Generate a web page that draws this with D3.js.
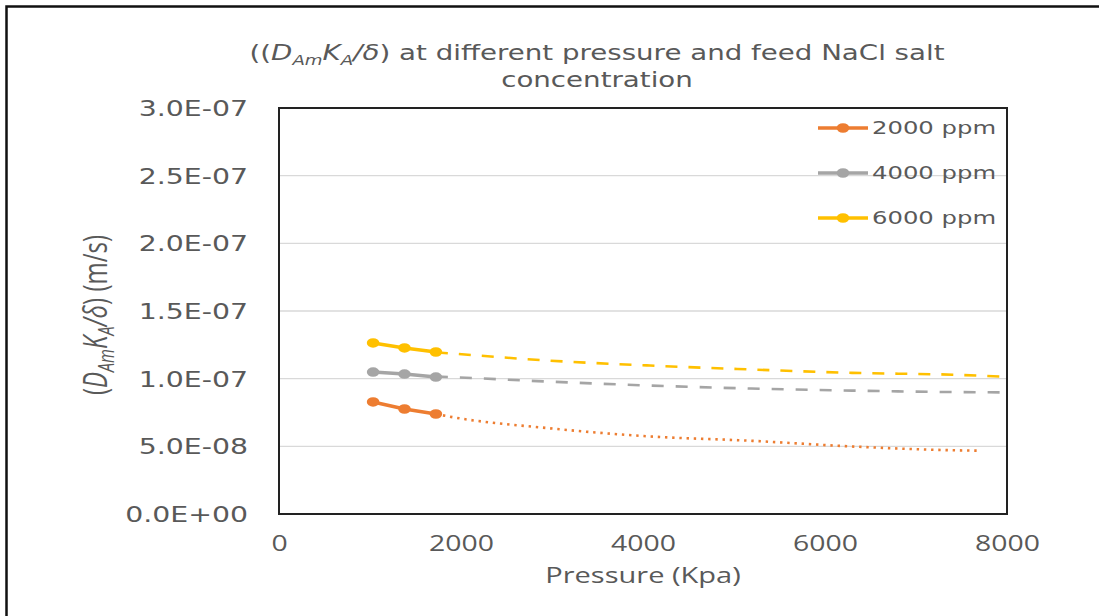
<!DOCTYPE html>
<html>
<head>
<meta charset="utf-8">
<script src="https://cdn.jsdelivr.net/npm/d3@7"></script>
<style>
  body { margin: 0; background: #fff; }
  svg { display: block; }
  .tick text { fill: #595959; }
</style>
</head>
<body>
<svg id="chart" width="1099" height="616"></svg>
<script>
// measured data points (pressure in kPa, flux in m/s)
const pressure = [1034, 1379, 1724];
const flux2000 = [8.28e-8, 7.76e-8, 7.39e-8];
const flux4000 = [1.049e-7, 1.034e-7, 1.012e-7];
const flux6000 = [1.264e-7, 1.227e-7, 1.197e-7];

// trend lines
const trendX2000 = [1724, 1879, 2978, 4077, 5187, 6297, 7407, 7670];
const trend2000 = [7.39e-8, 7.19e-8, 6.33e-8, 5.73e-8, 5.41e-8, 4.99e-8, 4.71e-8, 4.68e-8];
const trendX4000 = [1724, 1879, 2978, 4077, 5187, 6297, 7407, 7923];
const trend4000 = [1.016e-7, 1.012e-7, 9.78e-8, 9.49e-8, 9.27e-8, 9.12e-8, 9.01e-8, 8.99e-8];
const trendX6000 = [1724, 1879, 2978, 4077, 5187, 6297, 7407, 8000];
const trend6000 = [1.195e-7, 1.187e-7, 1.133e-7, 1.097e-7, 1.068e-7, 1.043e-7, 1.029e-7, 1.014e-7];

const seriesNames = ['2000 ppm', '4000 ppm', '6000 ppm'];
const seriesColors = ['#ED7D31', '#A5A5A5', '#FFC000'];

const xTickValues = [0, 2000, 4000, 6000, 8000];
const xTickLabels = ['0', '2000', '4000', '6000', '8000'];
const yTickValues = [0, 5e-8, 1e-7, 1.5e-7, 2e-7, 2.5e-7, 3e-7];
const yTickLabels = ['0.0E+00', '5.0E-08', '1.0E-07', '1.5E-07', '2.0E-07', '2.5E-07', '3.0E-07'];

const SX = 1.35; // the picture is stretched sideways
const textColor = '#595959';

const svg = d3.select('#chart');
const margin = {top: 108, right: 92, bottom: 102, left: 279};
const width = 1099 - margin.left - margin.right;
const height = 616 - margin.top - margin.bottom;

// outer frame (top + left only)
svg.append('path')
   .attr('d', 'M6.5,616 V6.5 H1099')
   .attr('fill', 'none')
   .attr('stroke', '#111')
   .attr('stroke-width', 2.5);

const chart = svg.append('g')
   .attr('transform', 'translate(' + margin.left + ',' + margin.top + ')');

const x = d3.scaleLinear().domain([0, 8000]).range([0, width]);
const y = d3.scaleLinear().domain([0, 3e-7]).range([height, 0]);

// gridlines
chart.append('g')
   .attr('class', 'grid')
   .selectAll('line')
   .data(yTickValues.slice(1, -1))
   .enter().append('line')
   .attr('x1', 0).attr('x2', width)
   .attr('y1', d => y(d)).attr('y2', d => y(d))
   .attr('stroke', '#d9d9d9')
   .attr('stroke-width', 1.3);

// axes
const yAxis = chart.append('g')
   .call(d3.axisLeft(y).tickValues(yTickValues).tickSize(0).tickPadding(23)
     .tickFormat((d, i) => yTickLabels[i]));
yAxis.select('.domain').remove();
yAxis.selectAll('text')
   .attr('font-family', 'DejaVu Sans')
   .attr('font-size', 21)
   .attr('dy', '0.36em')
   .attr('transform', 'scale(' + SX + ',1)');

const xAxis = chart.append('g')
   .attr('transform', 'translate(0,' + height + ')')
   .call(d3.axisBottom(x).tickValues(xTickValues).tickSize(0).tickPadding(22)
     .tickFormat((d, i) => xTickLabels[i]));
xAxis.select('.domain').remove();
xAxis.selectAll('text')
   .attr('font-family', 'Open Sans')
   .attr('font-size', 21)
   .attr('transform', 'scale(' + SX + ',1)');

// series
svg.append('clipPath').attr('id', 'plotclip')
   .append('rect').attr('width', width).attr('height', height);

const series = [
  {vals: flux2000, tx: trendX2000, ty: trend2000, dash: '2.4,4.8'},
  {vals: flux4000, tx: trendX4000, ty: trend4000, dash: '12,12'},
  {vals: flux6000, tx: trendX6000, ty: trend6000, dash: '12,11'}
];

const trendLine = d3.line().x(d => x(d[0])).y(d => y(d[1])).curve(d3.curveMonotoneX);
const dataLine = d3.line().x(d => x(d[0])).y(d => y(d[1]));

const plot = chart.append('g').attr('clip-path', 'url(#plotclip)');

series.forEach((s, i) => {
  plot.append('path')
     .datum(d3.zip(s.tx, s.ty))
     .attr('d', trendLine)
     .attr('fill', 'none')
     .attr('stroke', seriesColors[i])
     .attr('stroke-width', 2.6)
     .attr('stroke-dasharray', s.dash);
});

series.forEach((s, i) => {
  const pts = d3.zip(pressure, s.vals);
  plot.append('path')
     .datum(pts)
     .attr('d', dataLine)
     .attr('fill', 'none')
     .attr('stroke', seriesColors[i])
     .attr('stroke-width', 3.5)
     .attr('stroke-linejoin', 'round');
  plot.selectAll('.m' + i)
     .data(pts)
     .enter().append('ellipse')
     .attr('class', 'm' + i)
     .attr('cx', d => x(d[0]))
     .attr('cy', d => y(d[1]))
     .attr('rx', 6.3)
     .attr('ry', 4.8)
     .attr('fill', seriesColors[i]);
});

// plot frame
chart.append('rect')
   .attr('width', width).attr('height', height)
   .attr('fill', 'none')
   .attr('stroke', '#222')
   .attr('stroke-width', 2);

// legend
const legend = svg.append('g').attr('transform', 'translate(818,128)');
seriesNames.forEach((name, i) => {
  const row = legend.append('g').attr('transform', 'translate(0,' + i * 45 + ')');
  row.append('line')
     .attr('x1', 0).attr('x2', 50)
     .attr('stroke', seriesColors[i]).attr('stroke-width', 3.5);
  row.append('ellipse')
     .attr('cx', 25).attr('rx', 6.3).attr('ry', 4.8)
     .attr('fill', seriesColors[i]);
  row.append('text')
     .attr('transform', 'translate(54,0) scale(' + SX + ',1)')
     .attr('dy', '0.36em')
     .attr('font-family', 'DejaVu Sans')
     .attr('font-size', 18)
     .attr('fill', textColor)
     .text(name);
});

// title
const title = svg.append('g').attr('font-family', 'DejaVu Sans').attr('fill', textColor);
const t1 = title.append('text')
   .attr('transform', 'translate(597,60) scale(' + SX + ',1)')
   .attr('text-anchor', 'middle')
   .attr('font-size', 20.5);
t1.append('tspan').text('((');
t1.append('tspan').attr('font-style', 'italic').text('D');
t1.append('tspan').attr('font-style', 'italic').attr('font-size', 13.5).attr('dy', 5).text('Am');
t1.append('tspan').attr('font-style', 'italic').attr('dy', -5).text('K');
t1.append('tspan').attr('font-style', 'italic').attr('font-size', 13.5).attr('dy', 5).text('A');
t1.append('tspan').attr('font-style', 'italic').attr('dy', -5).text('/δ');
t1.append('tspan').text(') at different pressure and feed NaCl salt');
title.append('text')
   .attr('transform', 'translate(597,87) scale(' + SX + ',1)')
   .attr('text-anchor', 'middle')
   .attr('font-size', 20.5)
   .text('concentration');

// axis titles
svg.append('text')
   .attr('transform', 'translate(643,583) scale(' + SX + ',1)')
   .attr('text-anchor', 'middle')
   .attr('font-family', 'Open Sans')
   .attr('font-size', 21.5)
   .attr('fill', textColor)
   .text('Pressure (Kpa)');

const yt = svg.append('text')
   .attr('transform', 'translate(107,315) rotate(-90) scale(1,' + SX + ')')
   .attr('text-anchor', 'middle')
   .attr('font-family', 'Open Sans')
   .attr('font-size', 24)
   .attr('fill', textColor);
yt.append('tspan').text('(');
yt.append('tspan').attr('font-style', 'italic').text('D');
yt.append('tspan').attr('font-style', 'italic').attr('font-size', 16).attr('dy', 5).text('Am');
yt.append('tspan').attr('font-style', 'italic').attr('dy', -5).text('K');
yt.append('tspan').attr('font-style', 'italic').attr('font-size', 16).attr('dy', 5).text('A');
yt.append('tspan').attr('font-style', 'italic').attr('dy', -5).text('/δ');
yt.append('tspan').text(') (m/s)');
</script>
</body>
</html>
